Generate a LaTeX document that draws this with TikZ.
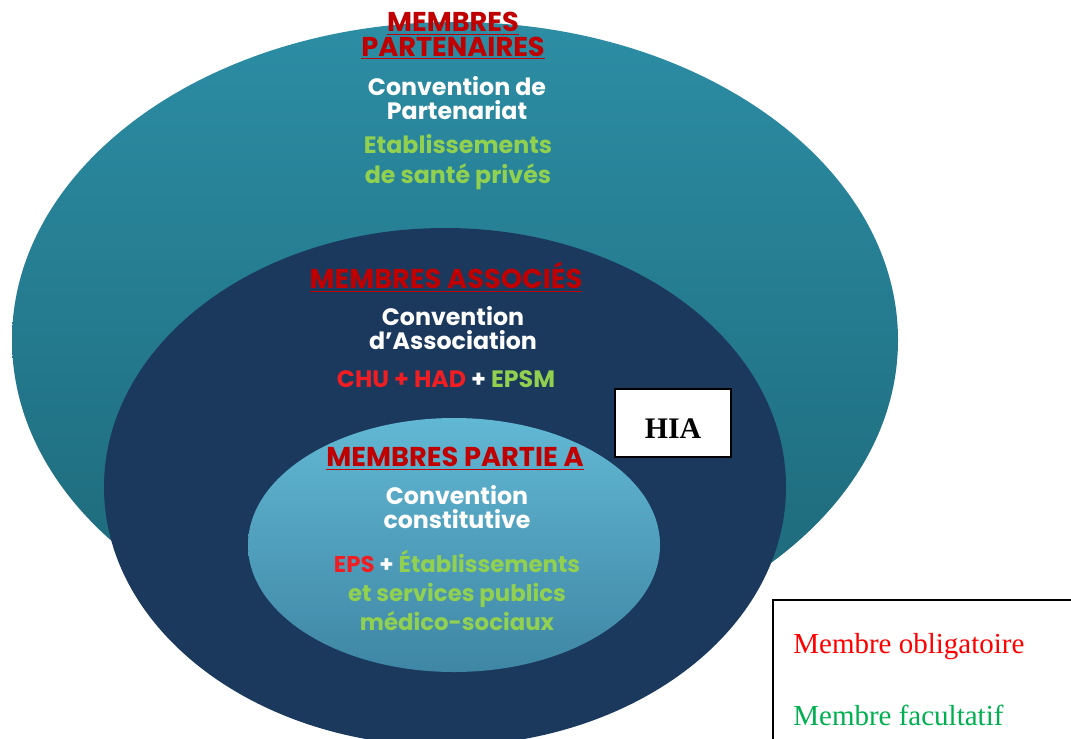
\documentclass[tikz,border=0pt]{standalone}
\usepackage{fontspec}
\setmainfont{Poppins}
\newfontfamily\serifl{Liberation Serif}
\definecolor{outtop}{HTML}{2C8DA4}
\definecolor{outbot}{HTML}{1C6676}
\definecolor{navy}{HTML}{1B395D}
\definecolor{intop}{HTML}{62B8D4}
\definecolor{inbot}{HTML}{3E86A4}
\definecolor{tred}{HTML}{C00000}
\definecolor{bred}{HTML}{F01E23}
\definecolor{tgreen}{HTML}{92D050}
\definecolor{lgreen}{HTML}{00B050}
\definecolor{lred}{HTML}{FF0000}
\tikzset{
  title/.style={text=tred,font=\bfseries\fontsize{15.5}{16}\selectfont,align=center,inner sep=0pt},
  conv/.style={text=white,font=\bfseries\fontsize{13.5}{14}\selectfont,align=center,inner sep=0pt},
  memb/.style={text=tgreen,font=\bfseries\fontsize{13.5}{17}\selectfont,align=center,inner sep=0pt},
  legtxt/.style={font=\serifl\fontsize{16.5}{18}\selectfont,anchor=base west,inner sep=0pt}
}
\begin{document}
\begin{tikzpicture}[x=0.02cm,y=-0.02cm]
\useasboundingbox (0,0) rectangle (1071,738);
\clip (0,0) rectangle (1071,738);
\fill[white] (0,0) rectangle (1071,738);
% outer ellipse
\shade[top color=outtop,bottom color=outbot] (455,340) ellipse [x radius=443,y radius=318];
% middle ellipse
\fill[navy] (445,487) ellipse [x radius=341,y radius=259];
% inner ellipse
\shade[top color=intop,bottom color=inbot] (454,545) ellipse [x radius=206,y radius=127];
% outer texts
\node[title] (t1) at (453,36) {\underline{MEMBRES}\\[-2pt]\underline{PARTENAIRES}};
\node[conv] (c1) at (457,98) {Convention de\\Partenariat};
\node[memb] (m1) at (458,162) {Etablissements\\de santé privés};
% middle texts
\node[title] (t2) at (446,277) {\underline{MEMBRES ASSOCIÉS}};
\node[conv] (c2) at (453,328) {Convention\\d’Association};
\node[memb] (m2) at (446,379) {\textcolor{bred}{CHU} \textcolor{bred}{+} \textcolor{bred}{HAD} \textcolor{white}{+} EPSM};
% inner texts
\node[title] (t3) at (455,459) {\underline{MEMBRES PARTIE A}};
\node[conv] (c3) at (457,507) {Convention\\constitutive};
\node[memb,font=\bfseries\fontsize{13}{16.5}\selectfont] (m3) at (457,590) {\textcolor{bred}{EPS} \textcolor{white}{+} Établissements\\et services publics\\médico-sociaux};
% HIA box
\node[draw=black,fill=white,line width=0.8pt,minimum width=116*0.02cm,minimum height=68*0.02cm,
  font=\serifl\bfseries\fontsize{17}{19}\selectfont,text depth=0pt] (hia) at (673,423) {\raisebox{-6pt}{HIA}};
% legend
\draw[black,line width=0.8pt,fill=white] (1080,600) -- (773,600) -- (773,745);
\node[legtxt,text=lred] (l1) at (793,653) {Membre obligatoire};
\node[legtxt,text=lgreen] (l2) at (793,725) {Membre facultatif};
\end{tikzpicture}
\end{document}
